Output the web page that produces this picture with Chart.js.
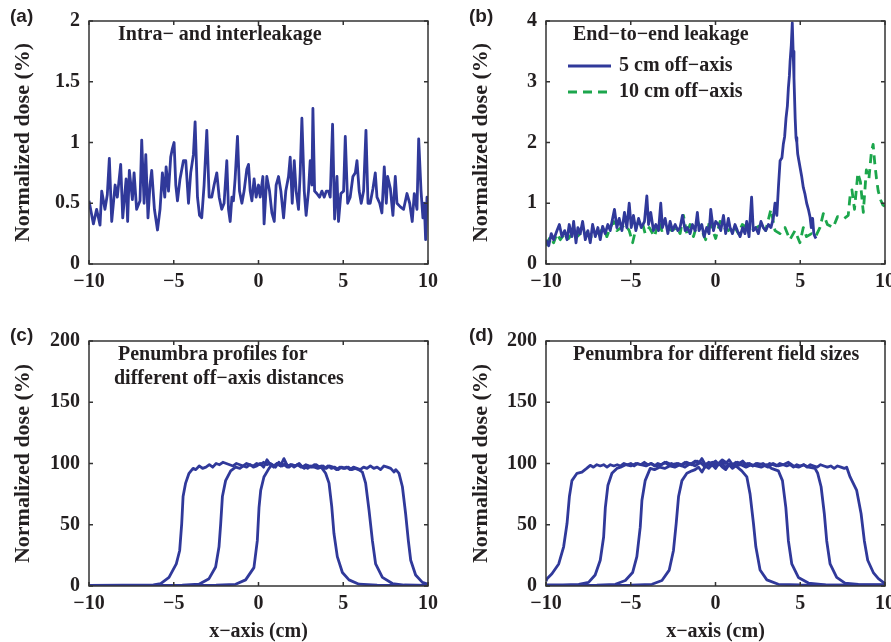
<!DOCTYPE html>
<html>
<head>
<meta charset="utf-8">
<script src="https://cdn.jsdelivr.net/npm/chart.js@4.4.0/dist/chart.umd.min.js"></script>
<style>
  body { margin: 0; background: #fff; width: 891px; height: 642px; overflow: hidden; position: relative; }
  canvas { position: absolute; }
</style>
</head>
<body>
<canvas id="pa" width="445" height="320" style="left:0;top:0"></canvas>
<canvas id="pb" width="460" height="320" style="left:445px;top:0"></canvas>
<canvas id="pc" width="445" height="322" style="left:0;top:320px"></canvas>
<canvas id="pd" width="460" height="322" style="left:445px;top:320px"></canvas>
<script>
// tick values
const xTickVals = [-10, -5, 0, 5, 10];
const yTicksA = [0, 0.5, 1, 1.5, 2];
const yTicksB = [0, 1, 2, 3, 4];
const yTicksCD = [0, 50, 100, 150, 200];

// (a) intra- and interleakage, [x cm, dose %]
const intraInter = [[-10,0.52],[-9.74,0.33],[-9.55,0.45],[-9.35,0.32],[-9.25,0.6],[-9.06,0.45],[-8.92,0.57],[-8.8,0.87],[-8.66,0.35],[-8.46,0.65],[-8.33,0.55],[-8.13,0.82],[-8.01,0.38],[-7.81,0.7],[-7.72,0.35],[-7.62,0.77],[-7.44,0.53],[-7.34,0.75],[-7.19,0.45],[-6.99,0.52],[-6.89,1.02],[-6.75,0.5],[-6.65,0.9],[-6.52,0.38],[-6.4,0.65],[-6.3,0.77],[-6.14,0.45],[-5.96,0.28],[-5.81,0.45],[-5.67,0.75],[-5.53,0.55],[-5.45,0.8],[-5.31,0.6],[-5.18,0.88],[-5.08,0.95],[-4.98,1.0],[-4.88,0.65],[-4.78,0.52],[-4.63,0.7],[-4.43,0.85],[-4.29,0.85],[-4.13,0.5],[-4.0,0.75],[-3.84,0.9],[-3.74,1.17],[-3.6,0.55],[-3.48,0.4],[-3.35,0.38],[-3.21,0.65],[-3.05,1.1],[-2.91,0.55],[-2.76,0.55],[-2.62,0.65],[-2.46,0.75],[-2.32,0.55],[-2.17,0.45],[-2.03,0.5],[-1.87,0.85],[-1.77,0.45],[-1.67,0.35],[-1.57,0.55],[-1.48,0.52],[-1.38,0.7],[-1.24,1.05],[-1.12,0.6],[-0.98,0.5],[-0.85,0.6],[-0.69,0.78],[-0.59,0.82],[-0.49,0.6],[-0.39,0.52],[-0.26,0.7],[-0.14,0.55],[0,0.65],[0.1,0.55],[0.26,0.72],[0.33,0.33],[0.49,0.72],[0.65,0.6],[0.79,0.42],[0.93,0.35],[1.04,0.65],[1.18,0.72],[1.32,0.6],[1.48,0.38],[1.61,0.6],[1.77,0.72],[1.87,0.88],[1.99,0.5],[2.11,0.85],[2.22,0.6],[2.36,0.45],[2.46,0.75],[2.56,1.2],[2.7,0.6],[2.81,0.4],[2.95,0.6],[3.05,0.85],[3.15,0.65],[3.21,1.28],[3.31,0.6],[3.44,0.58],[3.6,0.55],[3.74,0.6],[3.88,0.55],[4.0,0.6],[4.13,0.6],[4.23,0.55],[4.37,1.15],[4.49,0.37],[4.63,0.72],[4.72,0.35],[4.86,0.58],[5.02,0.6],[5.12,1.05],[5.26,0.5],[5.41,0.55],[5.57,0.72],[5.71,0.75],[5.81,0.85],[5.94,0.6],[6.06,0.5],[6.2,0.6],[6.34,1.1],[6.46,0.5],[6.59,0.5],[6.75,0.62],[6.89,0.75],[6.99,0.55],[7.15,0.5],[7.28,0.42],[7.42,0.8],[7.54,0.5],[7.62,0.72],[7.78,0.62],[7.93,0.4],[8.07,0.72],[8.17,0.5],[8.37,0.47],[8.56,0.45],[8.76,0.58],[8.92,0.5],[9.07,0.35],[9.19,0.58],[9.35,0.45],[9.45,1.03],[9.59,0.6],[9.7,0.38],[9.78,0.5],[9.86,0.2],[9.94,0.55],[10,0.52]];

// (b) end-to-end leakage
const e2e5cm = [[-10,0.4],[-9.84,0.3],[-9.69,0.5],[-9.55,0.4],[-9.35,0.55],[-9.21,0.65],[-9.06,0.45],[-8.9,0.55],[-8.76,0.4],[-8.63,0.65],[-8.47,0.45],[-8.37,0.7],[-8.23,0.35],[-8.12,0.6],[-7.98,0.5],[-7.84,0.7],[-7.68,0.4],[-7.53,0.55],[-7.39,0.35],[-7.25,0.65],[-7.09,0.45],[-6.94,0.6],[-6.8,0.4],[-6.66,0.62],[-6.51,0.5],[-6.35,0.65],[-6.21,0.55],[-6.07,0.75],[-5.96,0.9],[-5.82,0.6],[-5.68,0.75],[-5.52,0.55],[-5.37,0.85],[-5.23,0.6],[-5.09,1.0],[-4.97,0.6],[-4.84,0.8],[-4.7,0.55],[-4.54,0.75],[-4.38,0.6],[-4.19,0.7],[-4.05,1.12],[-3.95,0.65],[-3.82,0.85],[-3.66,0.55],[-3.52,0.65],[-3.36,0.55],[-3.23,1.0],[-3.13,0.6],[-2.97,0.75],[-2.81,0.5],[-2.68,0.7],[-2.54,0.55],[-2.38,0.65],[-2.22,0.55],[-2.09,0.6],[-1.95,0.8],[-1.79,0.55],[-1.66,0.6],[-1.5,0.5],[-1.36,0.65],[-1.2,0.55],[-1.07,0.85],[-0.97,0.55],[-0.81,0.65],[-0.67,0.45],[-0.52,0.6],[-0.38,0.5],[-0.28,0.9],[-0.12,0.55],[0.01,0.7],[0.17,0.65],[0.31,0.55],[0.47,0.8],[0.6,0.5],[0.76,0.75],[0.86,0.6],[1.0,0.5],[1.15,0.65],[1.29,0.55],[1.45,0.45],[1.6,0.6],[1.74,0.5],[1.84,0.7],[1.98,0.45],[2.13,1.1],[2.23,0.55],[2.37,0.6],[2.53,0.5],[2.68,0.7],[2.82,0.6],[2.96,0.55],[3.12,0.65],[3.27,0.6],[3.41,0.75],[3.51,1.0],[3.62,0.8],[3.72,1.3],[3.81,1.7],[3.92,1.75],[4.0,1.97],[4.08,2.1],[4.16,2.4],[4.24,2.6],[4.3,2.9],[4.36,3.1],[4.4,3.33],[4.47,3.6],[4.53,3.97],[4.58,3.5],[4.63,3.06],[4.7,2.4],[4.75,2.08],[4.8,2.0],[4.85,1.81],[4.92,1.7],[4.99,1.59],[5.08,1.45],[5.18,1.26],[5.28,1.15],[5.38,1.0],[5.48,0.9],[5.58,0.77],[5.65,0.6],[5.73,0.75],[5.8,0.5],[5.87,0.45],[5.93,0.42]];
const e2e10cm = [[-10,0.3],[-9.74,0.45],[-9.55,0.35],[-9.35,0.5],[-9.16,0.4],[-8.9,0.5],[-8.66,0.42],[-8.37,0.55],[-8.17,0.45],[-7.98,0.5],[-7.68,0.55],[-7.39,0.45],[-7.09,0.45],[-6.9,0.5],[-6.6,0.6],[-6.41,0.45],[-6.21,0.6],[-6.01,0.7],[-5.82,0.55],[-5.56,0.6],[-5.33,0.65],[-5.09,0.55],[-4.89,0.35],[-4.64,0.65],[-4.35,0.72],[-4.15,0.5],[-3.91,0.6],[-3.6,0.45],[-3.36,0.7],[-3.17,0.55],[-2.87,0.6],[-2.58,0.55],[-2.28,0.6],[-2.09,0.5],[-1.89,0.8],[-1.69,0.5],[-1.5,0.65],[-1.3,0.45],[-1.05,0.7],[-0.81,0.55],[-0.58,0.4],[-0.32,0.75],[-0.22,0.6],[0.01,0.42],[0.27,0.7],[0.47,0.6],[0.76,0.55],[1.05,0.65],[1.35,0.5],[1.58,0.65],[1.84,0.6],[2.13,0.55],[2.43,0.6],[2.72,0.65],[2.96,0.55],[3.27,0.9],[3.51,0.55],[3.8,0.5],[4.1,0.6],[4.39,0.4],[4.69,0.55],[4.98,0.35],[5.18,0.6],[5.37,0.45],[5.67,0.5],[5.9,0.45],[6.16,0.6],[6.36,0.83],[6.6,0.65],[6.94,0.6],[7.2,0.78],[7.59,0.75],[7.83,0.8],[7.95,1.15],[8.05,1.22],[8.2,0.9],[8.4,1.5],[8.55,1.35],[8.65,1.05],[8.72,0.85],[8.9,1.55],[9.05,1.4],[9.2,1.85],[9.3,1.97],[9.4,1.65],[9.5,1.4],[9.6,1.2],[9.75,1.05],[9.88,0.97],[10,0.95]];

// (c) penumbra profiles, three off-axis distances
const offAxisA = [[-10,0.5],[-8,0.6],[-7,0.6],[-6.2,1],[-5.77,2],[-5.28,7],[-4.85,18],[-4.65,29],[-4.53,51],[-4.45,73],[-4.3,84],[-4.1,92],[-3.86,96],[-3.7,95],[-3.5,98],[-3.3,96],[-3.1,97],[-2.9,99],[-2.7,97],[-2.5,100],[-2.3,99],[-2.1,101],[-1.9,100],[-1.7,99],[-1.5,98],[-1.3,100],[-1.1,99],[-0.9,98],[-0.7,100],[-0.5,99],[-0.3,98],[-0.1,100],[0.1,99],[0.3,101],[0.5,99],[0.7,100],[0.9,98],[1.1,100],[1.3,98],[1.5,99],[1.7,97],[1.9,99],[2.1,98],[2.3,99],[2.5,97],[2.7,98],[2.9,96],[3.1,98],[3.3,97],[3.5,96],[3.7,97],[3.96,92],[4.16,84],[4.32,65],[4.45,43],[4.65,24],[4.95,11],[5.34,5],[5.93,1.5],[7,0.6],[8.5,0.5],[10,0.4]];
const offAxisB = [[-10,0.5],[-6,0.5],[-4.5,0.7],[-3.51,1.5],[-2.92,6],[-2.53,15.5],[-2.33,32],[-2.23,51],[-2.13,73],[-1.94,86],[-1.64,94],[-1.35,97],[-1.1,96],[-0.9,98],[-0.7,97],[-0.5,99],[-0.3,97],[-0.1,98],[0.1,100],[0.3,97],[0.5,103],[0.7,99],[0.9,97],[1.1,100],[1.3,98],[1.5,104],[1.7,98],[1.9,99],[2.1,97],[2.3,99],[2.5,98],[2.7,96],[2.9,98],[3.1,97],[3.3,99],[3.5,97],[3.7,98],[3.9,96],[4.1,98],[4.3,96],[4.5,97],[4.7,95],[4.9,97],[5.1,96],[5.3,97],[5.5,95],[5.7,96],[5.9,95],[6.13,93],[6.32,84],[6.52,62],[6.72,37],[6.91,18],[7.31,7],[7.9,2],[8.6,0.8],[10,0.5]];
const offAxisC = [[-10,0.4],[-5,0.4],[-2.5,0.6],[-1.35,1.4],[-0.76,5],[-0.27,15],[-0.07,37],[0.03,64],[0.13,78],[0.32,89],[0.62,96],[0.8,99],[1.0,97],[1.2,101],[1.4,98],[1.6,100],[1.8,97],[2.0,99],[2.2,98],[2.4,100],[2.6,97],[2.8,99],[3.0,98],[3.2,97],[3.4,99],[3.6,97],[3.8,98],[4.0,96],[4.2,98],[4.4,97],[4.6,95],[4.8,97],[5.0,96],[5.2,97],[5.4,95],[5.6,97],[5.8,96],[6.0,95],[6.2,97],[6.4,96],[6.6,98],[6.8,96],[7.0,97],[7.2,95],[7.4,98],[7.6,97],[7.8,96],[8.0,93],[8.1,95],[8.29,92],[8.49,81],[8.68,59],[8.84,37],[8.98,21],[9.27,9],[9.67,3],[10,1.4]];

// (d) penumbra for four field sizes
const fieldD1 = [[-10,4],[-9.94,6],[-9.65,10],[-9.25,18],[-8.96,32],[-8.76,51],[-8.62,73],[-8.47,86],[-8.17,92],[-7.88,93],[-7.6,96],[-7.39,98.5],[-7.2,97],[-7.0,99],[-6.8,98],[-6.6,99],[-6.4,97],[-6.2,99],[-6.0,98],[-5.8,99],[-5.6,98],[-5.4,100],[-5.2,99],[-5.0,100],[-4.8,98],[-4.6,100],[-4.4,99],[-4.2,101],[-4.0,99],[-3.8,100],[-3.6,98],[-3.4,100],[-3.2,99],[-3.0,101],[-2.8,99],[-2.6,100],[-2.4,98],[-2.2,100],[-2.0,99],[-1.8,101],[-1.6,99],[-1.4,100],[-1.2,102],[-1.0,100],[-0.8,104],[-0.6,99],[-0.4,101],[-0.2,100],[0,102],[0.2,99],[0.4,101],[0.6,100],[0.8,103],[1.0,99],[1.2,101],[1.4,100],[1.6,102],[1.8,99],[2.0,100],[2.2,98],[2.4,100],[2.6,99],[2.8,100],[3.0,98],[3.2,100],[3.4,99],[3.6,98],[3.8,100],[4.0,99],[4.2,98],[4.4,99],[4.6,97],[4.8,99],[5.0,98],[5.2,99],[5.4,97],[5.6,99],[5.8,98],[6.0,97],[6.2,99],[6.4,98],[6.6,97],[6.8,98],[7.0,96],[7.2,98],[7.4,97],[7.6,96],[7.74,97],[7.94,89],[8.33,78],[8.59,59],[8.78,37],[8.98,21],[9.31,11],[9.61,6],[9.9,3],[10,2.5]];
const fieldD2 = [[-10,0.8],[-9,0.8],[-8.07,1.4],[-7.49,3],[-7.1,9],[-6.8,21],[-6.6,40],[-6.5,64],[-6.35,82],[-6.11,92],[-5.82,96],[-5.6,97],[-5.3,99],[-5.0,98],[-4.7,100],[-4.4,99],[-4.1,98],[-3.8,100],[-3.5,98],[-3.2,99],[-2.9,101],[-2.6,99],[-2.3,100],[-2.0,98],[-1.7,101],[-1.4,99],[-1.1,102],[-0.8,100],[-0.5,98],[-0.2,101],[0.1,99],[0.4,103],[0.7,100],[1.0,98],[1.3,101],[1.6,99],[1.9,100],[2.2,98],[2.5,100],[2.8,99],[3.1,97],[3.4,100],[3.7,98],[4.0,99],[4.3,101],[4.6,98],[4.9,97],[5.2,99],[5.5,97],[5.87,96],[6.03,92],[6.23,81],[6.42,59],[6.56,37],[6.76,18],[7.15,7],[7.64,2.4],[8.43,1.4],[10,1]];
const fieldD3 = [[-10,0.5],[-7,0.6],[-5.91,1.4],[-5.32,4.5],[-4.89,11],[-4.64,24],[-4.44,48],[-4.34,70],[-4.15,86],[-3.85,96],[-3.6,95],[-3.3,97],[-3.0,96],[-2.7,98],[-2.4,97],[-2.1,99],[-1.8,97],[-1.5,100],[-1.2,98],[-0.9,101],[-0.6,97],[-0.3,100],[0,98],[0.3,101],[0.6,97],[0.9,100],[1.2,98],[1.5,99],[1.8,97],[2.1,99],[2.4,98],[2.7,97],[3.0,99],[3.3,96],[3.71,94],[3.95,86],[4.15,64],[4.3,37],[4.5,18],[4.89,7],[5.48,2.4],[6.5,1],[10,0.6]];
const fieldD4 = [[-10,0.5],[-5,0.6],[-3.75,1.4],[-3.16,4.5],[-2.73,13],[-2.48,29],[-2.32,51],[-2.18,73],[-1.98,86],[-1.69,92],[-1.39,94],[-1.2,95],[-1.0,97],[-0.8,93],[-0.6,98],[-0.4,96],[-0.2,99],[0,96],[0.2,100],[0.4,97],[0.6,95],[0.8,99],[1.0,96],[1.2,98],[1.55,94],[1.85,89],[2.04,75],[2.24,51],[2.38,32],[2.63,13],[3.03,5],[3.71,1.4],[5,0.8],[10,0.5]];

const BLUE = '#30399a';
const GREEN = '#1ca64c';
const INK = '#231f20';
const SERIF = 'Liberation Serif';

Chart.defaults.font.family = SERIF;
Chart.defaults.color = INK;

const fmt = v => (v < 0 ? '\u2212' + Math.abs(v) : String(v));
const pts = arr => arr.map(([x, y]) => ({ x, y }));

// box, inward ticks, inner titles, panel tag and legend
const decor = {
  id: 'decor',
  afterDatasetsDraw(chart, args, o) {
    const { ctx, chartArea: a, scales: { x, y } } = chart;
    ctx.save();
    ctx.strokeStyle = '#333';
    ctx.lineWidth = 1.5;
    ctx.strokeRect(a.left, a.top, a.right - a.left, a.bottom - a.top);
    ctx.beginPath();
    x.ticks.forEach(t => {
      const p = x.getPixelForValue(t.value);
      ctx.moveTo(p, a.bottom); ctx.lineTo(p, a.bottom - 4);
      ctx.moveTo(p, a.top); ctx.lineTo(p, a.top + 4);
    });
    y.ticks.forEach(t => {
      const p = y.getPixelForValue(t.value);
      ctx.moveTo(a.left, p); ctx.lineTo(a.left + 4, p);
      ctx.moveTo(a.right, p); ctx.lineTo(a.right - 4, p);
    });
    ctx.stroke();

    ctx.fillStyle = INK;
    ctx.textBaseline = 'middle';
    ctx.textAlign = 'left';
    ctx.font = 'bold 20px "' + SERIF + '"';
    (o.lines || []).forEach(l => ctx.fillText(l[0], a.left + l[1], a.top + l[2]));

    if (o.legend) {
      chart.data.datasets.forEach((ds, i) => {
        const yy = a.top + 45 + i * 26;
        ctx.save();
        ctx.strokeStyle = ds.borderColor;
        ctx.lineWidth = ds.borderWidth;
        ctx.setLineDash(ds.borderDash || []);
        ctx.beginPath();
        ctx.moveTo(a.left + 22, yy); ctx.lineTo(a.left + 65, yy);
        ctx.stroke();
        ctx.restore();
        ctx.fillText(ds.label, a.left + 73, yy);
      });
    }

    ctx.font = 'bold 19px "Liberation Sans"';
    ctx.fillText(o.tag, o.tagX, o.tagY);
    ctx.restore();
  }
};

function makePanel(id, cfg) {
  const cv = document.getElementById(id);
  const W = cv.width, H = cv.height;
  const ar = cfg.area; // [left, top, right, bottom] inside canvas
  const tickFont = { family: SERIF, weight: 'bold', size: 20 };
  return new Chart(cv, {
    type: 'line',
    data: { datasets: cfg.datasets },
    options: {
      responsive: false,
      animation: false,
      events: [],
      layout: { padding: { left: 0, top: ar[1], right: W - ar[2], bottom: 0 } },
      elements: { point: { radius: 0 }, line: { tension: 0, borderJoinStyle: 'round' } },
      plugins: { legend: { display: false }, tooltip: { enabled: false }, decor: cfg.decor },
      scales: {
        x: {
          type: 'linear', min: -10, max: 10,
          afterBuildTicks: s => { s.ticks = xTickVals.map(v => ({ value: v })); },
          afterFit: s => { s.height = H - ar[3]; },
          grid: { display: false, drawTicks: false }, border: { display: false },
          ticks: { font: tickFont, color: INK, padding: 6, maxRotation: 0, callback: fmt },
          title: cfg.xTitle
            ? { display: true, text: 'x\u2212axis (cm)', color: INK, font: { family: SERIF, weight: 'bold', size: 20, lineHeight: 1 }, padding: { top: 0, bottom: 0 } }
            : { display: false }
        },
        y: {
          min: cfg.yTicks[0], max: cfg.yTicks[cfg.yTicks.length - 1],
          afterBuildTicks: s => { s.ticks = cfg.yTicks.map(v => ({ value: v })); },
          afterFit: s => { s.width = ar[0]; },
          grid: { display: false, drawTicks: false }, border: { display: false },
          ticks: { font: tickFont, color: INK, padding: 9, callback: fmt },
          title: { display: true, text: 'Normalized dose (%)', color: INK, font: { family: SERIF, weight: 'bold', size: 22 }, padding: { top: cfg.yTitlePad, bottom: 0 } }
        }
      }
    },
    plugins: [decor]
  });
}

const solid = (label, arr) => ({ label, data: pts(arr), borderColor: BLUE, borderWidth: 2.8, fill: false });

makePanel('pa', {
  area: [89, 19, 428, 264], yTicks: yTicksA, yTitlePad: 10,
  datasets: [solid('Intra\u2212 and interleakage', intraInter)],
  decor: { tag: '(a)', tagX: 10, tagY: 17, lines: [['Intra\u2212 and interleakage', 29, 14]] }
});

makePanel('pb', {
  area: [101, 19, 440, 264], yTicks: yTicksB, yTitlePad: 23,
  datasets: [
    solid('5 cm off\u2212axis', e2e5cm),
    { label: '10 cm off\u2212axis', data: pts(e2e10cm), borderColor: GREEN, borderWidth: 2.8, borderDash: [9, 6], fill: false }
  ],
  decor: { tag: '(b)', tagX: 24, tagY: 17, legend: true, lines: [['End\u2212to\u2212end leakage', 27, 14]] }
});

makePanel('pc', {
  area: [89, 21, 428, 266], yTicks: yTicksCD, yTitlePad: 10, xTitle: true,
  datasets: [solid('A', offAxisA), solid('B', offAxisB), solid('C', offAxisC)],
  decor: { tag: '(c)', tagX: 10, tagY: 16, lines: [['Penumbra profiles for', 29, 14], ['different off\u2212axis distances', 25, 38]] }
});

makePanel('pd', {
  area: [101, 21, 440, 266], yTicks: yTicksCD, yTitlePad: 23, xTitle: true,
  datasets: [solid('D1', fieldD1), solid('D2', fieldD2), solid('D3', fieldD3), solid('D4', fieldD4)],
  decor: { tag: '(d)', tagX: 24, tagY: 16, lines: [['Penumbra for different field sizes', 27, 14]] }
});
</script>
</body>
</html>
